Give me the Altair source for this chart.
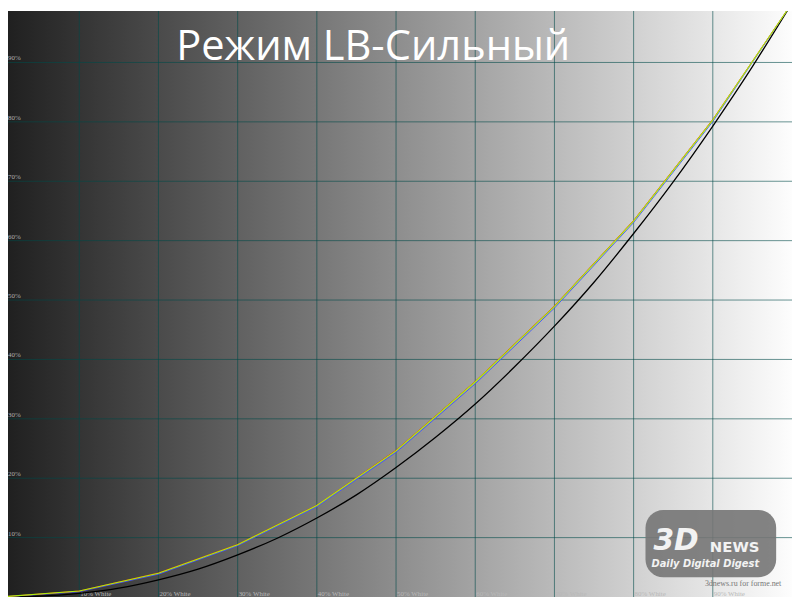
import altair as alt
import pandas as pd

# ---- data ----
black_x = [0, 5, 10, 15, 20, 25, 30, 35, 40, 45, 50, 55, 60, 65, 70, 75, 80, 85, 90, 95, 100]
black_y = [0, 0.14, 0.63, 1.5, 2.9, 4.7, 7.1, 9.9, 13.3, 17.2, 21.8, 26.9, 32.5, 38.8, 45.6, 53.0, 61.2, 69.9, 79.3, 89.3, 100]

meas_x = [0, 10, 20, 30, 40, 50, 60, 70, 80, 90, 100]
red_y = [0, 1.0, 4.05, 8.85, 15.45, 24.7, 36.3, 49.0, 63.4, 80.4, 100]
blue_y = [0, 0.9, 3.85, 8.65, 15.2, 24.35, 35.9, 48.65, 63.05, 80.05, 100]
green_y = [0, 1.0, 4.0, 8.8, 15.4, 24.6, 36.2, 48.9, 63.3, 80.3, 100]

grid_x = [10, 20, 30, 40, 50, 60, 70, 80, 90]
grid_y = [10, 20, 30, 40, 50, 60, 70, 80, 90]
y_labels = ["10%", "20%", "30%", "40%", "50%", "60%", "70%", "80%", "90%"]
x_labels = ["10% White", "20% White", "30% White", "40% White", "50% White",
            "60% White", "70% White", "80% White", "90% White"]
title_text = "Режим LB-Сильный"

W, H = 792, 592
xs = alt.Scale(domain=[1, 100], nice=False, zero=False)
ys = alt.Scale(domain=[0, 98.667], nice=False, zero=False)

bg = alt.Chart(pd.DataFrame({"a": [0]})).mark_rect(
    fill=alt.LinearGradient(
        gradient="linear",
        stops=[alt.GradientStop(color="#202020", offset=0),
               alt.GradientStop(color="#fdfdfd", offset=1)],
        x1=0, x2=1, y1=0, y2=0),
).encode(x=alt.value(0), x2=alt.value(W), y=alt.value(0), y2=alt.value(H))

vgrid = alt.Chart(pd.DataFrame({"x": grid_x})).mark_rule(
    color="#004a48", opacity=0.6, strokeWidth=1
).encode(x=alt.X("x:Q", scale=xs, axis=None))

hgrid = alt.Chart(pd.DataFrame({"y": grid_y})).mark_rule(
    color="#004a48", opacity=0.6, strokeWidth=1
).encode(y=alt.Y("y:Q", scale=ys, axis=None))

ylab = alt.Chart(pd.DataFrame({"y": grid_y, "t": y_labels})).mark_text(
    align="left", baseline="bottom", dy=-1, font="Liberation Serif", fontSize=7, color="#b0b0b0"
).encode(x=alt.value(0), y=alt.Y("y:Q", scale=ys, axis=None), text="t:N")

xlab = alt.Chart(pd.DataFrame({"x": grid_x, "t": x_labels})).mark_text(
    align="left", baseline="alphabetic", dx=1, font="Liberation Serif", fontSize=7, color="#b8b8b8"
).encode(x=alt.X("x:Q", scale=xs, axis=None), y=alt.value(H - 1), text="t:N")

black_df = pd.DataFrame({"x": black_x, "y": black_y})
black = alt.Chart(black_df).mark_line(
    color="#000000", strokeWidth=1.3, interpolate="monotone", clip=True
).encode(x=alt.X("x:Q", scale=xs, axis=None), y=alt.Y("y:Q", scale=ys, axis=None))

def meas(vals, col, w=1.0):
    df = pd.DataFrame({"x": meas_x, "y": vals})
    return alt.Chart(df).mark_line(color=col, strokeWidth=w, clip=True).encode(
        x=alt.X("x:Q", scale=xs, axis=None), y=alt.Y("y:Q", scale=ys, axis=None))

blue = meas(blue_y, "#4455ff")
red = meas(red_y, "#ee3300")
green = meas(green_y, "#aaee11", 1.1)

title = alt.Chart(pd.DataFrame({"t": [title_text]})).mark_text(
    align="center", baseline="alphabetic", font="Open Sans", fontSize=42, color="#ffffff"
).encode(x=alt.value(369), y=alt.value(50), text="t:N")

# watermark
blob = alt.Chart(pd.DataFrame({"a": [0]})).mark_rect(
    color="#767676", cornerRadius=18, opacity=0.9
).encode(x=alt.value(644), x2=alt.value(776), y=alt.value(504), y2=alt.value(572))
wm3d = alt.Chart(pd.DataFrame({"t": ["3D"]})).mark_text(
    align="left", baseline="alphabetic", font="DejaVu Sans", fontWeight="bold", fontStyle="italic",
    fontSize=30, color="#f2f2f2"
).encode(x=alt.value(652), y=alt.value(545), text="t:N")
wmnews = alt.Chart(pd.DataFrame({"t": ["NEWS"]})).mark_text(
    align="left", baseline="alphabetic", font="DejaVu Sans", fontWeight="bold",
    fontSize=15, color="#f2f2f2"
).encode(x=alt.value(709), y=alt.value(547), text="t:N")
wmddd = alt.Chart(pd.DataFrame({"t": ["Daily Digital Digest"]})).mark_text(
    align="left", baseline="alphabetic", font="DejaVu Sans", fontWeight="bold", fontStyle="italic",
    fontSize=10, color="#f2f2f2"
).encode(x=alt.value(650), y=alt.value(562), text="t:N")
wmurl = alt.Chart(pd.DataFrame({"t": ["3dnews.ru for forme.net"]})).mark_text(
    align="left", baseline="alphabetic", font="Liberation Serif", fontSize=8, color="#777777"
).encode(x=alt.value(704), y=alt.value(581), text="t:N")

chart = alt.layer(
    bg, vgrid, hgrid, ylab, xlab, black, blue, red, green, title,
    blob, wm3d, wmnews, wmddd, wmurl
).properties(
    width=W, height=H, padding=0, autosize=alt.AutoSizeParams(type="none")
).configure_view(stroke=None)

chart.save("out.html", embed_options={"renderer": "svg", "actions": False})
